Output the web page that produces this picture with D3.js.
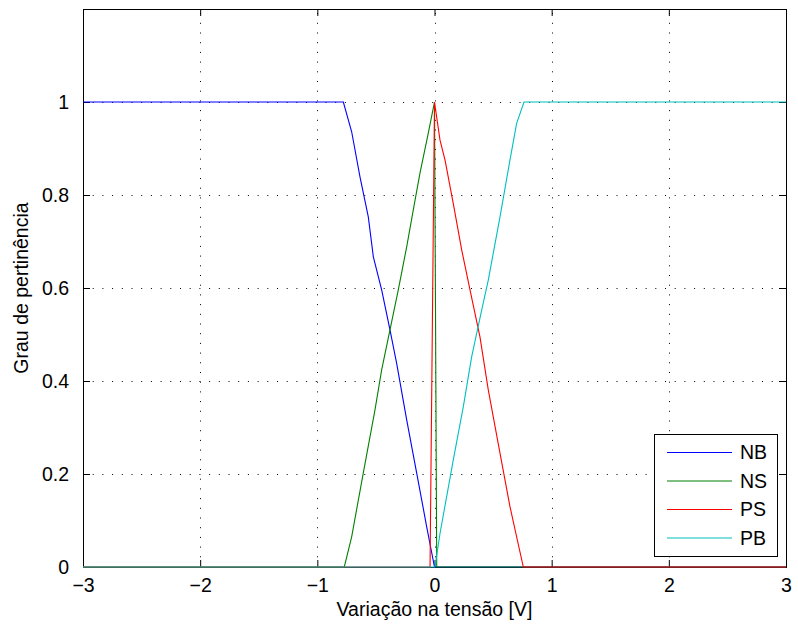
<!DOCTYPE html>
<html>
<head>
<meta charset="utf-8">
<script src="https://cdnjs.cloudflare.com/ajax/libs/d3/7.8.5/d3.min.js"></script>
<style>
  body { margin: 0; background: #fff; }
  text { font-family: 'Liberation Sans', Arial, sans-serif; fill: #000; }
</style>
</head>
<body>
<div id="chart-container"></div>
<script>
const w = 798;
const h = 624;
const margin = { top: 9, right: 12, bottom: 57, left: 83 };

const xTicks = [-3, -2, -1, 0, 1, 2, 3];
const yTicks = [0, 0.2, 0.4, 0.6, 0.8, 1];
const seriesNames = ['NB', 'NS', 'PS', 'PB'];
const seriesColors = ['#0000ff', '#008000', '#ff0000', '#00bfbf'];

// points (x in V, y membership)
const nbX = [-3, -0.778, -0.707, -0.636, -0.565, -0.522, -0.451, -0.38, -0.323, -0.237, -0.152, -0.067, 0, 3];
const nbY = [1, 1, 0.936, 0.839, 0.753, 0.667, 0.596, 0.51, 0.438, 0.316, 0.202, 0.087, 0, 0];
const nsX = [-3, -0.77, -0.707, -0.608, -0.508, -0.451, -0.38, -0.309, -0.237, -0.166, -0.124, -0.053, 0, 0.019, 3];
const nsY = [0, 0, 0.065, 0.202, 0.338, 0.424, 0.51, 0.596, 0.689, 0.789, 0.847, 0.933, 1, 0, 0];
const psX = [-3, -0.038, 0, 0.047, 0.09, 0.16, 0.232, 0.303, 0.388, 0.459, 0.559, 0.644, 0.758, 3];
const psY = [0, 0, 1, 0.918, 0.875, 0.782, 0.682, 0.596, 0.495, 0.381, 0.245, 0.13, 0, 0];
const pbX = [-3, 0.004, 0.047, 0.16, 0.246, 0.317, 0.403, 0.459, 0.559, 0.644, 0.701, 0.764, 3];
const pbY = [0, 0, 0.072, 0.23, 0.345, 0.452, 0.553, 0.617, 0.753, 0.875, 0.954, 1, 1];

const series = [
  { name: seriesNames[0], xs: nbX, ys: nbY },
  { name: seriesNames[1], xs: nsX, ys: nsY },
  { name: seriesNames[2], xs: psX, ys: psY },
  { name: seriesNames[3], xs: pbX, ys: pbY },
];

const xScale = d3
  .scaleLinear()
  .domain([-3, 3])
  .range([margin.left, w - margin.right]);

const yScale = d3
  .scaleLinear()
  .domain([0, 1.2])
  .range([h - margin.bottom, margin.top]);

const colorScale = d3.scaleOrdinal().domain(seriesNames).range(seriesColors);

const svg = d3
  .select('#chart-container')
  .append('svg')
  .attr('width', w)
  .attr('height', h);

const x0 = margin.left;
const x1 = w - margin.right;
const y0 = h - margin.bottom;
const y1 = margin.top;

// dotted grid
const grid = svg.append('g').attr('stroke', '#000').attr('stroke-width', 1).attr('stroke-dasharray', '1,8.7');
grid
  .selectAll('.gx')
  .data(xTicks.slice(1, -1))
  .enter()
  .append('line')
  .attr('x1', (d) => Math.round(xScale(d)) + 0.5)
  .attr('x2', (d) => Math.round(xScale(d)) + 0.5)
  .attr('y1', y0)
  .attr('y2', y1);
grid
  .selectAll('.gy')
  .data(yTicks.slice(1))
  .enter()
  .append('line')
  .attr('y1', (d) => Math.round(yScale(d)) + 0.5)
  .attr('y2', (d) => Math.round(yScale(d)) + 0.5)
  .attr('x1', x0)
  .attr('x2', x1);

// axes with inward ticks on all four sides
const xAxisB = d3.axisBottom(xScale).tickValues(xTicks).tickSizeInner(-7).tickSizeOuter(0).tickPadding(11).tickFormat((d) => (d < 0 ? '\u2212' + Math.abs(d) : d));
const xAxisT = d3.axisTop(xScale).tickValues(xTicks).tickSizeInner(-7).tickSizeOuter(0).tickFormat('');
const yAxisL = d3.axisLeft(yScale).tickValues(yTicks).tickSizeInner(-7).tickSizeOuter(0).tickPadding(14).tickFormat(d3.format('~g'));
const yAxisR = d3.axisRight(yScale).tickValues(yTicks).tickSizeInner(-7).tickSizeOuter(0).tickFormat('');

const axes = [
  [xAxisB, `translate(0, ${y0})`],
  [xAxisT, `translate(0, ${y1})`],
  [yAxisL, `translate(${x0}, 0)`],
  [yAxisR, `translate(${x1}, 0)`],
];
axes.forEach(([ax, tr]) => {
  const g = svg.append('g').attr('transform', tr).call(ax);
  g.select('.domain').remove();
  g.selectAll('line').attr('stroke', '#000');
  g.selectAll('text').style('font-size', '19.5px').attr('fill', '#000');
});

svg
  .append('rect')
  .attr('x', x0 + 0.5)
  .attr('y', y1 + 0.5)
  .attr('width', x1 - x0)
  .attr('height', y0 - y1)
  .attr('fill', 'none')
  .attr('stroke', '#000');

svg
  .append('clipPath')
  .attr('id', 'plot-clip')
  .append('rect')
  .attr('x', x0)
  .attr('y', y1 - 1)
  .attr('width', x1 - x0 + 1)
  .attr('height', y0 - y1 + 2);

const line = d3
  .line()
  .x((d) => xScale(d[0]))
  .y((d) => yScale(d[1]));

svg
  .append('g')
  .attr('clip-path', 'url(#plot-clip)')
  .selectAll('path')
  .data(series)
  .enter()
  .append('path')
  .attr('d', (d) => line(d.xs.map((x, i) => [x, d.ys[i]])))
  .attr('fill', 'none')
  .attr('stroke', (d) => colorScale(d.name))
  .attr('stroke-width', 1.1);

// axis titles
svg
  .append('text')
  .attr('x', xScale(0))
  .attr('y', 616)
  .attr('text-anchor', 'middle')
  .style('font-size', '19.5px')
  .text('Variação na tensão [V]');

svg
  .append('text')
  .attr('transform', `translate(28, ${yScale(0.6)}) rotate(-90)`)
  .attr('text-anchor', 'middle')
  .style('font-size', '19.5px')
  .text('Grau de pertinência');

// legend
const legend = svg.append('g').attr('transform', 'translate(654, 434)');
legend
  .append('rect')
  .attr('x', 0.5)
  .attr('y', 0.5)
  .attr('width', 123)
  .attr('height', 122)
  .attr('fill', '#fff')
  .attr('stroke', '#000');

const rows = legend
  .selectAll('.row')
  .data(seriesNames)
  .enter()
  .append('g')
  .attr('transform', (d, i) => `translate(0, ${18 + i * 28.5})`);
rows
  .append('line')
  .attr('x1', 13)
  .attr('x2', 78)
  .attr('y1', 0.5)
  .attr('y2', 0.5)
  .attr('stroke', (d) => colorScale(d))
  .attr('stroke-width', 1.1);
rows
  .append('text')
  .attr('x', 86)
  .attr('y', 7)
  .style('font-size', '19.5px')
  .text((d) => d);
</script>
</body>
</html>
